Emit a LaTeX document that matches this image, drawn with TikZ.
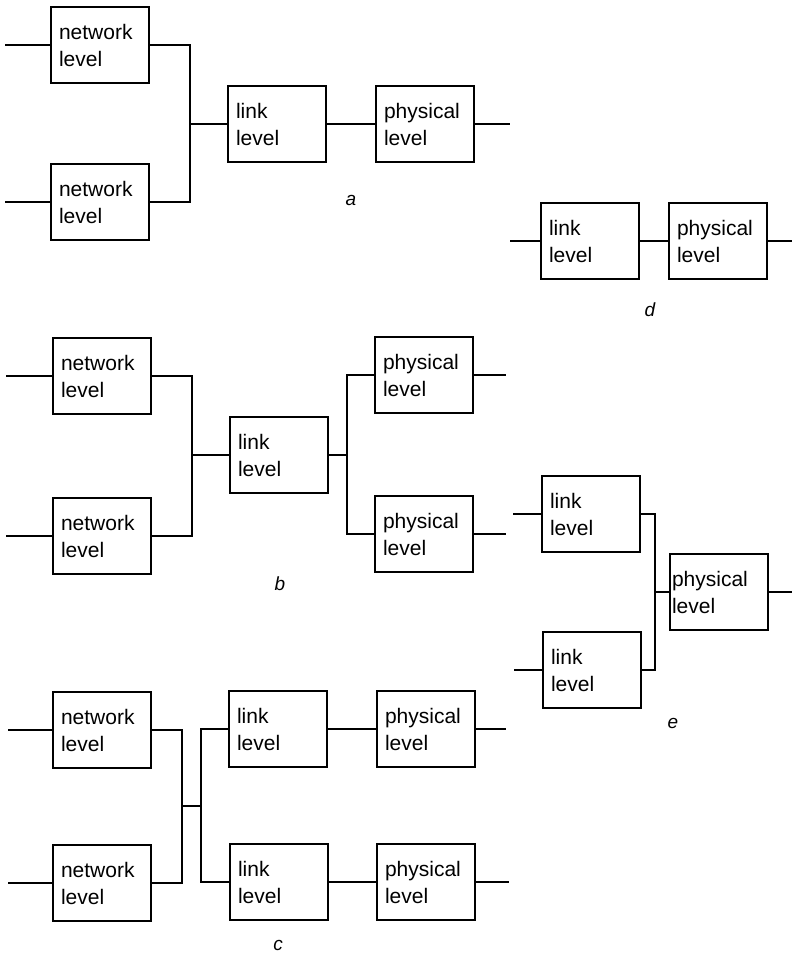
\documentclass[tikz,border=0pt]{standalone}
\usepackage{fontspec}
\setmainfont{Liberation Sans}
\begin{document}
\begin{tikzpicture}[x=1pt,y=-1pt,
  blk/.style={draw,line width=1.8pt,rectangle,minimum width=98pt,minimum height=76pt,
    text width=82pt,inner xsep=8pt,align=left,font=\fontsize{21}{27}\selectfont},
  wire/.style={line width=1.2pt},
  tag/.style={font=\fontsize{19}{20}\selectfont\itshape}]
\useasboundingbox (0,0) rectangle (792,959);

% ---- a: two network levels sharing one link level
\node[blk] (an1) at (100,45) {network\\level};
\node[blk] (an2) at (100,202) {network\\level};
\node[blk] (al) at (277,124) {link\\level};
\node[blk] (ap) at (425,124) {physical\\level};
\coordinate (aj) at (190,124);
\draw[wire] (an1.west) -- +(-45,0);
\draw[wire] (an2.west) -- +(-45,0);
\draw[wire] (an1.east) -| (aj) |- (an2.east);
\draw[wire] (aj) -- (al.west);
\draw[wire] (al.east) -- (ap.west);
\draw[wire] (ap.east) -- +(35,0);
\node[tag] (ta) at (351,200) {a};

% ---- d: one link level, one physical level
\node[blk] (dl) at (590,241) {link\\level};
\node[blk] (dp) at (718,241) {physical\\level};
\draw[wire] (dl.west) -- +(-30,0);
\draw[wire] (dl.east) -- (dp.west);
\draw[wire] (dp.east) -- +(25,0);
\node[tag] (td) at (650,310) {d};

% ---- b: two network levels, one link level, two physical levels
\node[blk] (bn1) at (102,376) {network\\level};
\node[blk] (bn2) at (102,536) {network\\level};
\node[blk] (bl) at (279,455) {link\\level};
\node[blk] (bp1) at (424,375) {physical\\level};
\node[blk] (bp2) at (424,534) {physical\\level};
\coordinate (bj1) at (192,455);
\coordinate (bj2) at (347,455);
\draw[wire] (bn1.west) -- +(-46,0);
\draw[wire] (bn2.west) -- +(-46,0);
\draw[wire] (bn1.east) -| (bj1) |- (bn2.east);
\draw[wire] (bj1) -- (bl.west);
\draw[wire] (bl.east) -- (bj2);
\draw[wire] (bp1.west) -| (bj2) |- (bp2.west);
\draw[wire] (bp1.east) -- +(32,0);
\draw[wire] (bp2.east) -- +(32,0);
\node[tag] (tb) at (280,584) {b};

% ---- e: two link levels sharing one physical level
\node[blk] (el1) at (591,514) {link\\level};
\node[blk] (el2) at (592,670) {link\\level};
\node[blk,inner xsep=2pt,text width=94pt] (ep) at (719,592) {physical\\level};
\coordinate (ej) at (655,592);
\draw[wire] (el1.west) -- +(-28,0);
\draw[wire] (el2.west) -- +(-28,0);
\draw[wire] (el1.east) -| (ej) |- (el2.east);
\draw[wire] (ej) -- (ep.west);
\draw[wire] (ep.east) -- +(24,0);
\node[tag] (te) at (673,723) {e};

% ---- c: two independent link/physical chains
\node[blk] (cn1) at (102,730) {network\\level};
\node[blk] (cn2) at (102,883) {network\\level};
\node[blk] (cl1) at (278,729) {link\\level};
\node[blk] (cl2) at (279,882) {link\\level};
\node[blk] (cp1) at (426,729) {physical\\level};
\node[blk] (cp2) at (426,882) {physical\\level};
\coordinate (cj1) at (182,806);
\coordinate (cj2) at (201,806);
\draw[wire] (cn1.west) -- +(-44,0);
\draw[wire] (cn2.west) -- +(-44,0);
\draw[wire] (cn1.east) -| (cj1) |- (cn2.east);
\draw[wire] (cj1) -- (cj2);
\draw[wire] (cl1.west) -| (cj2) |- (cl2.west);
\draw[wire] (cl1.east) -- (cp1.west);
\draw[wire] (cl2.east) -- (cp2.west);
\draw[wire] (cp1.east) -- +(30,0);
\draw[wire] (cp2.east) -- +(33,0);
\node[tag] (tc) at (278,945) {c};
\end{tikzpicture}
\end{document}
